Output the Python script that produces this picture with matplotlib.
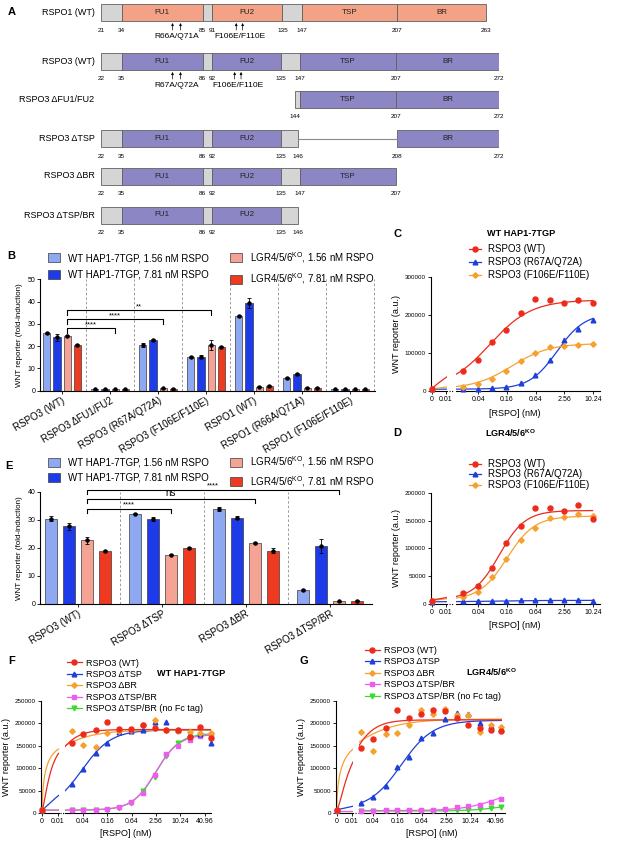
import numpy as np
import matplotlib
matplotlib.use("Agg")
import matplotlib.pyplot as plt
from matplotlib.patches import Patch, Rectangle
from matplotlib.lines import Line2D

plt.rcParams['font.family'] = ['Liberation Sans', 'DejaVu Sans']
plt.rcParams['mathtext.fontset'] = 'custom'
plt.rcParams['mathtext.rm'] = 'Liberation Sans'
plt.rcParams['mathtext.bf'] = 'Liberation Sans:bold'
plt.rcParams['axes.linewidth'] = 0.8
plt.rcParams['xtick.major.width'] = 0.6
plt.rcParams['ytick.major.width'] = 0.6
plt.rcParams['xtick.major.size'] = 2
plt.rcParams['ytick.major.size'] = 2
plt.rcParams['xtick.major.pad'] = 1.5
plt.rcParams['ytick.major.pad'] = 1.5

W, H = 617, 843

# ---------------- panel A: domain maps ----------------
a_names = ['RSPO1 (WT)', 'RSPO3 (WT)', 'RSPO3 ΔFU1/FU2', 'RSPO3 ΔTSP',
           'RSPO3 ΔBR', 'RSPO3 ΔTSP/BR']
a_family = ['RSPO1', 'RSPO3', 'RSPO3', 'RSPO3', 'RSPO3', 'RSPO3']
a_bounds = [[21, 34, 85, 91, 135, 147, 207, 263],
            [22, 35, 86, 92, 135, 147, 207, 272],
            [144, 147, 207, 272],
            [22, 35, 86, 92, 135, 146, 208, 272],
            [22, 35, 86, 92, 135, 147, 207],
            [22, 35, 86, 92, 135, 146]]
a_numbers = [[21, 34, 85, 91, 135, 147, 207, 263],
             [22, 35, 86, 92, 135, 147, 207, 272],
             [144, 207, 272],
             [22, 35, 86, 92, 135, 146, 208, 272],
             [22, 35, 86, 92, 135, 147, 207],
             [22, 35, 86, 92, 135, 146]]
a_domains = [['', 'FU1', '', 'FU2', '', 'TSP', 'BR'],
             ['', 'FU1', '', 'FU2', '', 'TSP', 'BR'],
             ['', 'TSP', 'BR'],
             ['', 'FU1', '', 'FU2', '', None, 'BR'],
             ['', 'FU1', '', 'FU2', '', 'TSP'],
             ['', 'FU1', '', 'FU2', '']]
a_mutations = {0: [('R66A/Q71A', [66, 71]), ('F106E/F110E', [106, 110])],
               1: [('R67A/Q72A', [67, 72]), ('F106E/F110E', [106, 110])]}

# ---------------- panel B ----------------
b_groups = ['RSPO3 (WT)', 'RSPO3 ΔFU1/FU2', 'RSPO3 (R67A/Q72A)', 'RSPO3 (F106E/F110E)',
            'RSPO1 (WT)', 'RSPO1 (R66A/Q71A)', 'RSPO1 (F106E/F110E)']
b_hap_156 = [26.0, 0.6, 20.5, 15.2, 33.5, 5.8, 0.6]
b_hap_781 = [24.0, 0.6, 22.8, 15.2, 39.2, 7.5, 0.6]
b_ko_156 = [24.5, 0.6, 1.1, 20.5, 1.8, 1.3, 0.6]
b_ko_781 = [20.6, 0.6, 0.8, 19.8, 2.1, 1.3, 0.6]
b_hap_156_err = [0.5, 0.2, 0.8, 0.4, 0.6, 0.5, 0.1]
b_hap_781_err = [1.5, 0.2, 0.6, 0.6, 2.3, 0.6, 0.1]
b_ko_156_err = [0.5, 0.2, 0.3, 2.4, 0.3, 0.3, 0.1]
b_ko_781_err = [0.4, 0.2, 0.2, 0.4, 0.3, 0.2, 0.1]
b_sig = [(1, 28, '****'), (2, 32, '****'), (3, 36, '**')]

# ---------------- panel E ----------------
e_groups = ['RSPO3 (WT)', 'RSPO3 ΔTSP', 'RSPO3 ΔBR', 'RSPO3 ΔTSP/BR']
e_hap_156 = [30.4, 32.3, 34.0, 4.9]
e_hap_781 = [27.7, 30.2, 30.8, 20.7]
e_ko_156 = [22.8, 17.6, 21.7, 0.9]
e_ko_781 = [19.0, 20.0, 19.0, 1.1]
e_hap_156_err = [0.9, 0.3, 0.8, 0.4]
e_hap_781_err = [1.4, 0.7, 0.5, 2.4]
e_ko_156_err = [1.2, 0.2, 0.3, 0.2]
e_ko_781_err = [0.4, 0.5, 0.9, 0.2]
e_sig = [(1, 34, '****'), (2, 37.5, 'ns'), (3, 40.8, '****')]

bar_labels = ['WT HAP1-7TGP, 1.56 nM RSPO', 'WT HAP1-7TGP, 7.81 nM RSPO',
              'LGR4/5/6$^{\\mathrm{KO}}$, 1.56 nM RSPO', 'LGR4/5/6$^{\\mathrm{KO}}$, 7.81 nM RSPO']

# ---------------- panels C, D ----------------
cd_conc = [0, 0.0195, 0.039, 0.078, 0.156, 0.3125, 0.625, 1.25, 2.5, 5, 10]
cd_labels = ['RSPO3 (WT)', 'RSPO3 (R67A/Q72A)', 'RSPO3 (F106E/F110E)']
c_wt = [5000, 52000, 81000, 128000, 161000, 206000, 243000, 240000, 233000, 239000, 231000]
c_r67 = [5000, 4000, 4500, 6000, 10000, 20000, 42000, 80000, 135000, 163000, 187000]
c_f106 = [5000, 10000, 18000, 31000, 52000, 79000, 101000, 116000, 118000, 122000, 123000]
# fitted curves: bottom, top, EC50, hill
c_fits = [(5000, 240000, 0.07, 1.0), (4000, 205000, 1.8, 1.5), (5000, 125000, 0.2, 1.1)]
d_wt = [6000, 20000, 32000, 65000, 110000, 140000, 173000, 172000, 167000, 177000, 153000]
d_r67 = [4000, 4500, 5000, 5500, 6000, 6500, 6500, 6500, 6500, 6500, 6000]
d_f106 = [6000, 13000, 22000, 48000, 81000, 115000, 136000, 154000, 157000, 161000, 158000]
d_fits = [(8000, 168000, 0.11, 1.6), (4000, 6500, 0.1, 1.0), (7000, 158000, 0.16, 1.5)]

# ---------------- panels F, G ----------------
fg_conc = [0, 0.021, 0.041, 0.083, 0.16, 0.32, 0.61, 1.2, 2.4, 4.6, 9.0, 17.6, 32, 58]
fg_labels = ['RSPO3 (WT)', 'RSPO3 ΔTSP', 'RSPO3 ΔBR', 'RSPO3 ΔTSP/BR', 'RSPO3 ΔTSP/BR (no Fc tag)']
f_wt = [8000, 157000, 175000, 184000, 202000, 188000, 187000, 197000, 190000, 186000, 185000, 169000, 191000, 168000]
f_dtsp = [8000, 66000, 98000, 133000, 156000, 181000, 183000, 186000, 203000, 202000, 184000, 175000, 175000, 155000]
f_dbr = [8000, 182000, 151000, 148000, 178000, 183000, 186000, 197000, 207000, 186000, 183000, 180000, 178000, 178000]
f_dtspbr = [7000, 7000, 7500, 8000, 10000, 13000, 24000, 45000, 85000, 132000, 150000, 162000, 172000, 172000]
f_nofc = [7000, 7000, 7000, 7500, 8000, 12000, 22000, 50000, 80000, 128000, 157000, 165000, 172000, 172000]
f_fits = [(8000, 186000, 0.006, 1.5), (8000, 185000, 0.038, 1.2), (8000, 185000, 0.0025, 0.8),
          (7000, 175000, 2.5, 1.5), (7000, 178000, 2.6, 1.5)]
g_wt = [8000, 146000, 166000, 190000, 229000, 212000, 222000, 231000, 228000, 213000, 196000, 191000, 186000, 183000]
g_dtsp = [8000, 24000, 37000, 61000, 102000, 126000, 168000, 179000, 210000, 223000, 220000, 202000, 194000, 187000]
g_dbr = [8000, 182000, 139000, 177000, 179000, 196000, 231000, 220000, 232000, 218000, 218000, 182000, 196000, 192000]
g_dtspbr = [6000, 6000, 6000, 6500, 7000, 6500, 7500, 7500, 9000, 13000, 16000, 19000, 26000, 31000]
g_nofc = [5000, 5000, 5000, 5000, 5000, 5000, 5500, 6000, 6500, 7000, 8000, 9000, 11000, 13000]
g_fits = [(8000, 208000, 0.01, 1.5), (8000, 207000, 0.2, 1.1), (8000, 210000, 0.004, 0.7),
          (6000, 60000, 50, 1.0), (5000, 30000, 100, 1.0)]

RED, BLUE, ORANGE, MAGENTA, GREEN = '#EC2B1D', '#1E3FDA', '#F6A12E', '#EF5BEF', '#3BDB2E'
bar_colors = ['#8FA8F2', '#1D3BE8', '#F5A394', '#EE3A20']
rspo1_col, rspo3_col, grey_col = '#F3A285', '#8C86C4', '#D5D5D5'

fig = plt.figure(figsize=(W / 100, H / 100), dpi=100)


def box(x0, y0, x1, y1):
    return [x0 / W, 1 - y1 / H, (x1 - x0) / W, (y1 - y0) / H]


def label(x, y, s, **kw):
    kw.setdefault('fontsize', 6)
    fig.text(x / W, 1 - y / H, s, **kw)


# ================= A =================
axA = fig.add_axes(box(100.8, 0, 499.2, 240))
axA.set_xlim(22, 272)
axA.set_ylim(240, 0)
axA.axis('off')
row_y = [12.5, 61.5, 99.5, 138.5, 176, 215]
half = 8.5
for i, name in enumerate(a_names):
    yc = row_y[i]
    shift = 1 if a_family[i] == 'RSPO1' else 0
    col = rspo1_col if a_family[i] == 'RSPO1' else rspo3_col
    xb = [v + shift for v in a_bounds[i]]
    for j, dom in enumerate(a_domains[i]):
        x0, x1 = xb[j], xb[j + 1]
        if dom is None:
            axA.plot([x0, x1], [yc, yc], color='#8a8a8a', lw=0.8)
            continue
        axA.add_patch(Rectangle((x0, yc - half), x1 - x0, 2 * half,
                                fc=grey_col if dom == '' else col, ec='#606060', lw=0.6))
        if dom:
            axA.text((x0 + x1) / 2, yc, dom, ha='center', va='center', fontsize=5.8, color='#222222')
    for v in a_numbers[i]:
        axA.text(v + shift, yc + half + 9, str(v), ha='center', va='center', fontsize=4.6)
    axA.text(18, yc, name, ha='right', va='center', fontsize=6.5, clip_on=False)
    for mlabel, res in a_mutations.get(i, []):
        for r in res:
            axA.annotate('', xy=(r + shift, yc + half + 2), xytext=(r + shift, yc + half + 9),
                         arrowprops=dict(arrowstyle='-|>', lw=0.5, color='k', mutation_scale=3.5,
                                         shrinkA=0, shrinkB=0))
        axA.text(np.mean(res) + shift, yc + half + 15.5, mlabel, ha='center', va='center', fontsize=6)
label(8, 12, 'A', fontsize=8, fontweight='bold', va='center')

# ================= B and E =================
offsets = [-0.32, -0.107, 0.107, 0.32]


def bar_panel(ax, groups, series, errors, sig, ymax, step, width, tick_dy, end_line):
    x = np.arange(len(groups))
    for s, e, c, off in zip(series, errors, bar_colors, offsets):
        ax.bar(x + off, s, width, color=c, edgecolor='#3a3a3a', lw=0.5, zorder=2)
        ax.errorbar(x + off, s, yerr=e, fmt='o', color='k', ms=2.2, capsize=1.4,
                    elinewidth=0.6, capthick=0.6, zorder=3)
    seps = np.arange(len(groups) - (0 if end_line else 1)) + 0.5
    for sx in seps:
        ax.axvline(sx, color='#8a8a8a', ls=(0, (3, 2.5)), lw=0.6, zorder=1)
    x_left = offsets[2]
    for g, yv, txt in sig:
        xr = g + offsets[2]
        ax.plot([x_left, x_left, xr, xr], [yv - tick_dy, yv, yv, yv - tick_dy], color='k', lw=0.8,
                clip_on=False, zorder=4)
        fs = 7 if txt == 'ns' else 5.5
        ax.text((x_left + xr) / 2, yv + (0.3 if txt == 'ns' else 0.1), txt, ha='center', va='bottom',
                fontsize=fs, clip_on=False)
    ax.set_ylim(0, ymax)
    ax.set_yticks(np.arange(0, ymax + 1, step))
    ax.set_xticks(x)
    ax.set_xticklabels(groups, rotation=30, ha='right', rotation_mode='anchor', fontsize=7)
    ax.tick_params(axis='y', labelsize=5)
    ax.set_ylabel('WNT reporter (fold-induction)', fontsize=5.8, labelpad=3)
    for sp in ['top', 'right']:
        ax.spines[sp].set_visible(False)


axB = fig.add_axes(box(40, 279.3, 375, 390.7))
bar_panel(axB, b_groups, [b_hap_156, b_hap_781, b_ko_156, b_ko_781],
          [b_hap_156_err, b_hap_781_err, b_ko_156_err, b_ko_781_err], b_sig, 50, 10, 0.15, 2.0, True)
axB.set_xlim(-0.46, 6.52)

axE = fig.add_axes(box(40, 492, 372, 604))
bar_panel(axE, e_groups, [e_hap_156, e_hap_781, e_ko_156, e_ko_781],
          [e_hap_156_err, e_hap_781_err, e_ko_156_err, e_ko_781_err], e_sig, 40, 10, 0.135, 1.6, False)
axE.set_xlim(-0.452, 3.5)

bar_handles = [Patch(facecolor=c, edgecolor='#3a3a3a', lw=0.5) for c in bar_colors]
for (lx, ly, sp) in [(48, 250, 0.68), (48, 454.5, 0.48)]:
    fig.legend(bar_handles, bar_labels, loc='upper left', bbox_to_anchor=(lx / W, 1 - ly / H),
               ncol=2, frameon=False, fontsize=7, handlelength=1.23, handleheight=1.05,
               handletextpad=0.8, labelspacing=sp, columnspacing=2.2, borderpad=0, borderaxespad=0)
label(7, 256, 'B', fontsize=8, fontweight='bold', va='center')
label(5, 466, 'E', fontsize=8, fontweight='bold', va='center')


# ================= dose-response panels =================
def logistic(x, p):
    b, t, ec, h = p
    xh = np.asarray(x, float) ** h
    return b + (t - b) * xh / (xh + ec ** h)


def dose_panel(geo, conc, series, fits, colors, markers, labels, ymax, ystep, rticks, order):
    xa, x0, x1, lend, rstart, t004, per4, rend, ytop, ybot = geo
    s = 0.01 / (x1 - x0)
    axL = fig.add_axes(box(xa, ytop, lend, ybot))
    axR = fig.add_axes(box(rstart, ytop, rend, ybot))
    axR.patch.set_alpha(0)
    axL.set_xlim((xa - x0) * s, (lend - x0) * s)
    k = np.log10(4) / per4
    lo = 10 ** (np.log10(0.04) - (t004 - rstart) * k)
    hi = 10 ** (np.log10(0.04) + (rend - t004) * k)
    axR.set_xscale('log')
    axR.set_xlim(lo, hi)
    conc = np.asarray(conc, float)
    xl = np.linspace(0, (lend - x0) * s, 80)
    xr = np.geomspace(lo, conc.max(), 200)
    ms = {'o': 3.6, '^': 3.4, 'D': 2.8, 's': 3.2, 'v': 3.4}
    for i in order:
        c, m = colors[i], markers[i]
        vals = np.asarray(series[i], float)
        axL.plot(xl, logistic(xl, fits[i]), color=c, lw=0.9)
        axL.plot(conc[:1], vals[:1], ls='none', marker=m, ms=ms[m], color=c, clip_on=False, zorder=5)
        axR.plot(xr, logistic(xr, fits[i]), color=c, lw=0.9)
        axR.plot(conc[1:], vals[1:], ls='none', marker=m, ms=ms[m], color=c, clip_on=False, zorder=5)
    yt = np.arange(0, ymax + 1, ystep)
    for ax in (axL, axR):
        ax.set_ylim(0, ymax)
        for sp in ['top', 'right']:
            ax.spines[sp].set_visible(False)
        ax.tick_params(labelsize=5)
    axL.set_yticks(yt)
    axL.set_yticklabels([str(int(v)) for v in yt], fontsize=4.5)
    axL.set_xticks([0, 0.01])
    axL.set_xticklabels(['0', '0.01'])
    axL.set_ylabel('WNT reporter (a.u.)', fontsize=6.5, labelpad=3)
    axR.spines['left'].set_visible(False)
    axR.set_yticks([])
    axR.set_xticks(rticks)
    axR.set_xticklabels([('%g' % v) for v in rticks])
    axR.xaxis.set_minor_locator(matplotlib.ticker.NullLocator())
    fig.add_artist(Line2D([(lend + 1.5) / W, (rstart - 1.5) / W], [1 - ybot / H] * 2,
                          transform=fig.transFigure, color='k', lw=0.8, ls=(0, (1, 1.3))))
    handles = [Line2D([], [], color=colors[i], marker=markers[i], ms=ms[markers[i]], lw=0.9)
               for i in range(len(labels))]
    return handles


def dose_legend(handles, labels, x, y, spacing, fs, hl, pad):
    fig.legend(handles, labels, loc='upper left', bbox_to_anchor=(x / W, 1 - y / H), frameon=False,
               fontsize=fs, handlelength=hl, handletextpad=pad, labelspacing=spacing, borderpad=0,
               borderaxespad=0)


# C
c_geo = (430.7, 431.7, 445.7, 447.3, 455.7, 478.3, 28.7, 600, 277.3, 390.7)
hC = dose_panel(c_geo, cd_conc, [c_wt, c_r67, c_f106], c_fits, [RED, BLUE, ORANGE],
                ['o', '^', 'D'], cd_labels, 300000, 100000, [0.04, 0.16, 0.64, 2.56, 10.24], [1, 2, 0])
dose_legend(hC, cd_labels, 469, 244, 0.32, 7, 1.2, 0.75)
label(521, 234, 'WT HAP1-7TGP', fontsize=6.6, fontweight='bold', ha='center', va='center')
label(394, 234, 'C', fontsize=8, fontweight='bold', va='center')
label(515, 413, '[RSPO] (nM)', fontsize=6.5, ha='center', va='center')

# D
d_geo = (430.7, 431.7, 445.7, 447.3, 455.7, 478.3, 28.7, 600, 492.7, 604)
hD = dose_panel(d_geo, cd_conc, [d_wt, d_r67, d_f106], d_fits, [RED, BLUE, ORANGE],
                ['o', '^', 'D'], cd_labels, 200000, 50000, [0.04, 0.16, 0.64, 2.56, 10.24], [1, 2, 0])
dose_legend(hD, cd_labels, 469, 459, 0.05, 7, 1.2, 0.75)
label(510, 433, 'LGR4/5/6$^{\\mathbf{KO}}$', fontsize=6.6, fontweight='bold', ha='center', va='center')
label(393, 433, 'D', fontsize=8, fontweight='bold', va='center')
label(515, 626, '[RSPO] (nM)', fontsize=6.5, ha='center', va='center')

# F
fg_colors = [RED, BLUE, ORANGE, MAGENTA, GREEN]
fg_markers = ['o', '^', 'D', 's', 'v']
fg_ticks = [0.04, 0.16, 0.64, 2.56, 10.24, 40.96]
f_geo = (41, 42, 57.5, 58.5, 65, 83, 24.3, 211, 700.7, 813.3)
hF = dose_panel(f_geo, fg_conc, [f_wt, f_dtsp, f_dbr, f_dtspbr, f_nofc], f_fits, fg_colors,
                fg_markers, fg_labels, 250000, 50000, fg_ticks, [4, 3, 1, 2, 0])
dose_legend(hF, fg_labels, 67, 658.5, 0.27, 6.5, 1.65, 0.45)
label(157, 674, 'WT HAP1-7TGP', fontsize=6.6, fontweight='bold', va='center')
label(8, 661, 'F', fontsize=8, fontweight='bold', va='center')
label(126, 834, '[RSPO] (nM)', fontsize=6.5, ha='center', va='center')

# G
g_geo = (335.7, 336.7, 351.7, 353, 359, 372.7, 24.5, 505, 701, 813.3)
hG = dose_panel(g_geo, fg_conc, [g_wt, g_dtsp, g_dbr, g_dtspbr, g_nofc], g_fits, fg_colors,
                fg_markers, fg_labels, 250000, 50000, fg_ticks, [4, 3, 1, 2, 0])
dose_legend(hG, fg_labels, 365, 646, 0.27, 6.5, 1.65, 0.45)
label(466, 672, 'LGR4/5/6$^{\\mathbf{KO}}$', fontsize=6.6, fontweight='bold', va='center')
label(300, 661, 'G', fontsize=8, fontweight='bold', va='center')
label(432, 834, '[RSPO] (nM)', fontsize=6.5, ha='center', va='center')

fig.savefig('out.png', dpi=100)
